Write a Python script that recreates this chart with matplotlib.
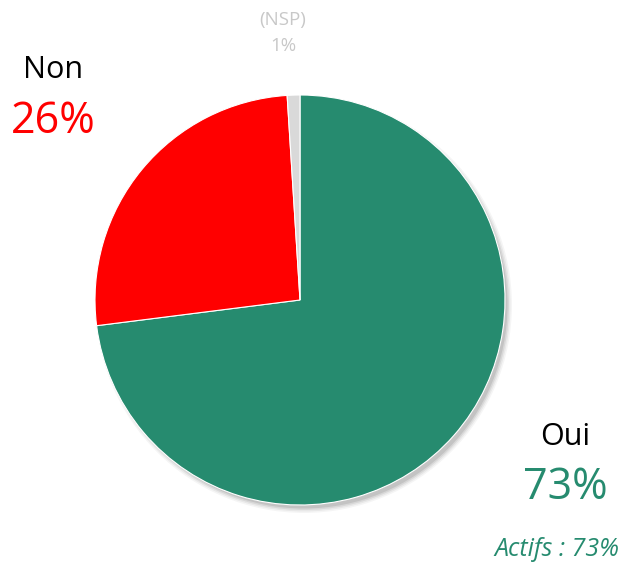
import matplotlib.pyplot as plt
from matplotlib.patches import Circle

labels = ["Oui", "Non", "(NSP)"]
values = [73, 26, 1]
colors = ["#268B6F", "#FF0000", "#D9D9D9"]

plt.rcParams['font.family'] = ['Open Sans', 'DejaVu Sans']

W, H = 633, 563
fig = plt.figure(figsize=(W / 100, H / 100), dpi=100)
ax = fig.add_axes([0, 0, 1, 1])

cx, cy, r = 300, H - 300, 205

# --- soft shadow
for i, a in enumerate([0.04, 0.05, 0.07, 0.09]):
    ax.add_patch(Circle((cx + 4, cy - 5), r + 3 - i * 1.5, color='black', alpha=a, lw=0, zorder=1))

ax.pie(values, colors=colors, startangle=90, counterclock=False,
       center=(cx, cy), radius=r, frame=True,
       wedgeprops=dict(edgecolor='white', linewidth=0.8, zorder=2))
ax.set_xlim(0, W)
ax.set_ylim(0, H)
ax.set_aspect('equal')
ax.set_axis_off()

# --- labels
ax.text(53, H - 70, labels[1], fontsize=22, color='black', ha='center', va='center')
ax.text(53, H - 122, f"{values[1]}%", fontsize=31, color=colors[1], ha='center', va='center')

ax.text(565, H - 437, labels[0], fontsize=22, color='black', ha='center', va='center')
ax.text(565, H - 488, f"{values[0]}%", fontsize=31, color=colors[0], ha='center', va='center')

ax.text(283, H - 20, labels[2], fontsize=13.5, color='#C8C8C8', ha='center', va='center')
ax.text(283, H - 46, f"{values[2]}%", fontsize=13.5, color='#C8C8C8', ha='center', va='center')

ax.text(557, H - 549, "Actifs : 73%", fontsize=18, color=colors[0], style='italic',
        ha='center', va='center')

fig.savefig('out.png', dpi=100)
